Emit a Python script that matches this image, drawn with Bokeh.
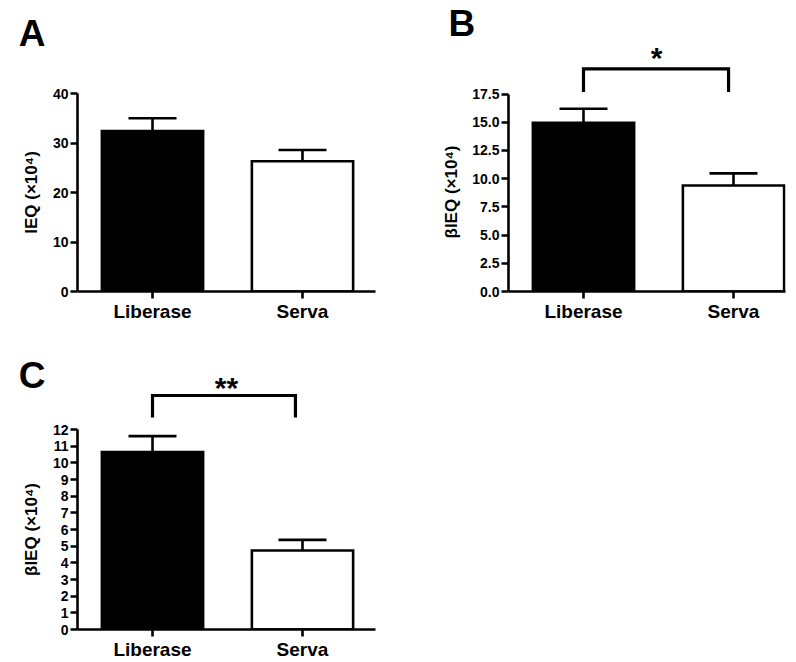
from bokeh.plotting import figure
from bokeh.layouts import column, row
from bokeh.models import (Range1d, FixedTicker, NumeralTickFormatter, Title,
                          ColumnDataSource, GlobalInlineStyleSheet)
from bokeh.core.properties import value
from bokeh.embed import file_html
from bokeh.resources import INLINE

# ---------------- data ----------------
categories = ["Liberase", "Serva"]
bar_fill = ["black", "white"]

ieq_mean = [32.4, 26.3]
ieq_sem = [2.6, 2.3]
ieq_ticks = [0, 10, 20, 30, 40]

bieq_b_mean = [14.95, 9.4]
bieq_b_sem = [1.25, 1.07]
bieq_b_ticks = [0, 2.5, 5, 7.5, 10, 12.5, 15, 17.5]

bieq_c_mean = [10.64, 4.74]
bieq_c_sem = [0.96, 0.64]
bieq_c_ticks = [0, 1, 2, 3, 4, 5, 6, 7, 8, 9, 10, 11, 12]

FONT = "Liberation Sans"
XPX = 150.0  # px per category unit


def style_fig(p):
    p.outline_line_color = None
    p.grid.visible = False
    p.background_fill_color = "white"
    p.border_fill_color = "white"


def draw_bracket(p, bracket):
    x0, x1, ylow, yhigh = bracket
    p.line(x=[x0, x0, x1, x1], y=[ylow, yhigh, yhigh, ylow],
           line_color="black", line_width=3.2, line_join="miter")


def draw_stars(p, stars):
    sx, sy, s = stars
    p.text(x=[sx], y=[sy], text=[s], text_font=value(FONT),
           text_font_size="30px", text_font_style="bold",
           text_align="center", text_baseline="alphabetic",
           text_color="black")


def top_fig(width, height, b_left, b_right, ppu, y_bottom, letter, letter_y,
            bracket=None, stars=None):
    """Strip above a panel, same x/y scales as the panel below it.
    The panel letter is drawn as the single tick label of a bare y axis."""
    frame_w = width - b_left - b_right
    p = figure(width=width, height=height, output_backend="svg",
               toolbar_location=None, x_axis_type=None,
               x_range=Range1d(0, frame_w / XPX),
               y_range=Range1d(y_bottom, y_bottom + height / ppu),
               min_border_left=b_left, min_border_right=b_right,
               min_border_top=0, min_border_bottom=0)
    style_fig(p)
    yax = p.yaxis[0]
    yax.ticker = FixedTicker(ticks=[letter_y])
    yax.major_label_overrides = {letter_y: letter}
    yax.major_label_text_font = FONT
    yax.major_label_text_font_style = "bold"
    yax.major_label_text_font_size = "37px"
    yax.major_label_text_color = "black"
    yax.major_label_standoff = 32
    yax.major_tick_out = 0
    yax.major_tick_in = 0
    yax.axis_line_color = None
    yax.major_tick_line_color = None
    yax.minor_tick_line_color = None
    if bracket is not None:
        draw_bracket(p, bracket)
    if stars is not None:
        draw_stars(p, stars)
    return p


def panel(means, sems, ticks, ylabel, fmt, width, height,
          b_left, b_right, b_bottom, b_top, ppu, bracket=None, stars=None,
          title_label_offset=None, letter=None, letter_offset=0):
    frame_w = width - b_left - b_right
    frame_h = height - b_bottom - b_top
    p = figure(width=width, height=height, output_backend="svg",
               toolbar_location=None,
               x_range=Range1d(0, frame_w / XPX),
               y_range=Range1d(0, frame_h / ppu),
               min_border_left=b_left, min_border_right=b_right,
               min_border_top=b_top, min_border_bottom=b_bottom)
    style_fig(p)
    if letter is not None:
        p.title.text = letter
        p.title.align = "left"
        p.title.offset = letter_offset
        p.title.standoff = 0
        p.title.text_font = FONT
        p.title.text_font_style = "bold"
        p.title.text_font_size = "37px"
        p.title.text_color = "black"

    xs = [i + 0.5 for i in range(len(categories))]
    tops = [m + s for m, s in zip(means, sems)]
    src = ColumnDataSource(dict(x=xs, top=means, fill=bar_fill, etop=tops,
                                cl=[x - 0.16 for x in xs], cr=[x + 0.16 for x in xs]))
    p.vbar(x="x", top="top", bottom=0, width=0.675, fill_color="fill",
           line_color="black", line_width=2.6, line_join="miter", source=src)
    p.segment(x0="x", y0="top", x1="x", y1="etop", line_color="black",
              line_width=2.6, source=src)
    p.segment(x0="cl", y0="etop", x1="cr", y1="etop", line_color="black",
              line_width=2.6, source=src)
    if bracket is not None:
        draw_bracket(p, bracket)
    if stars is not None:
        draw_stars(p, stars)

    yax = p.yaxis[0]
    yax.ticker = FixedTicker(ticks=ticks)
    yax.bounds = (ticks[0], ticks[-1])
    if fmt:
        yax.formatter = NumeralTickFormatter(format=fmt)
    if title_label_offset is None:
        yax.axis_label = ylabel
        yax.axis_label_text_font = FONT
        yax.axis_label_text_font_style = "bold"
        yax.axis_label_text_font_size = "17px"
        yax.axis_label_text_color = "black"
        yax.axis_label_standoff = 9
    else:
        # y label as a side title so it can be centred on the axis span
        p.add_layout(Title(text=ylabel, align="left", offset=title_label_offset,
                           standoff=18, vertical_align="bottom",
                           text_font=FONT, text_font_style="bold",
                           text_font_size="17px", text_color="black"), "left")
    yax.major_label_text_font = FONT
    yax.major_label_text_font_style = "bold"
    yax.major_label_text_font_size = "14px"
    yax.major_label_standoff = 2

    xax = p.xaxis[0]
    xax.ticker = FixedTicker(ticks=xs)
    xax.major_label_overrides = {x: c for x, c in zip(xs, categories)}
    xax.major_label_text_font = FONT
    xax.major_label_text_font_style = "bold"
    xax.major_label_text_font_size = "19px"
    xax.major_label_standoff = 2

    for ax in (xax, yax):
        ax.axis_line_width = 2.6
        ax.axis_line_color = "black"
        ax.major_tick_line_width = 2.6
        ax.major_tick_line_color = "black"
        ax.major_tick_out = 7
        ax.major_tick_in = 0
        ax.minor_tick_line_color = None
        ax.major_label_text_color = "black"
    return p


# ---- panel A: frame y 93..293 px, x 77..375 px
ppuA = 5.0
tA = top_fig(400, 83, 77, 25, ppuA, (293 - 83) / ppuA, "A", (293 - 33) / ppuA)
pA = panel(ieq_mean, ieq_sem, ieq_ticks, "IEQ (×10⁴)", None,
           400, 241, 77, 25, 31, 10, ppuA)

# ---- panel B: frame y 43..293 px (17.5 at 94), x 508..785 px
ppuB = 199.0 / 17.5
pB = panel(bieq_b_mean, bieq_b_sem, bieq_b_ticks, "βIEQ (×10⁴)", "0.0",
           396, 324, 108, 11, 31, 43, ppuB,
           bracket=(0.5, 1.467, 17.68, 19.74), stars=(0.987, 20.70, "*"),
           title_label_offset=53, letter="B", letter_offset=-60)

# ---- panel C: frame y 429..629 px, x 77..375 px
ppuC = 200.0 / 12.0
tC = top_fig(400, 96, 77, 25, ppuC, (629 - 420) / ppuC, "C", (629 - 375) / ppuC,
             bracket=(0.5, 1.453, 12.72, 14.04), stars=(0.993, 14.52, "**"))
pC = panel(bieq_c_mean, bieq_c_sem, bieq_c_ticks, "βIEQ (×10⁴)", None,
           400, 242, 77, 25, 33, 9, ppuC)

layout = column(
    row(column(tA, pA, spacing=0), column(pB, spacing=0), spacing=0),
    column(tC, pC, spacing=0),
    spacing=0)
layout.stylesheets = [GlobalInlineStyleSheet(
    css="html, body { margin: 0; padding: 0; overflow: hidden; }")]

open("out.html", "w").write(file_html(layout, INLINE))
